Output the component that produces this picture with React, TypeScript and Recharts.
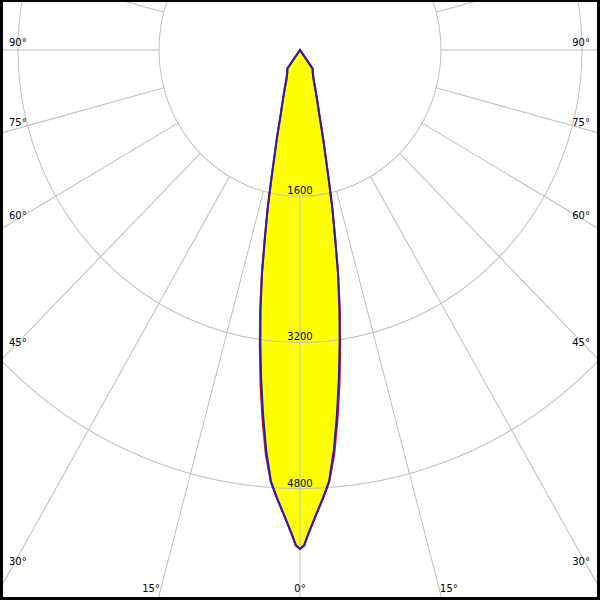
import { RadarChart, Radar, PolarGrid, PolarAngleAxis, PolarRadiusAxis } from "recharts";

// Polar light distribution (cd) — gamma angle from nadir, mirrored both sides
const GAMMA = [
  0, 0.5, 1, 2, 3, 4, 5, 6, 7, 8, 9, 10, 11, 12, 13, 14, 15, 16, 17, 18, 20, 22.5, 25, 30, 35, 180,
];
const PLANE_C0 = [
  5460, 5420, 5300, 5100, 4920, 4740, 4450, 4070, 3680, 3280, 2890, 2500, 2090, 1760, 1440, 1200,
  1030, 880, 760, 680, 560, 450, 370, 290, 250, 0,
];
const PLANE_C90 = [
  5460, 5420, 5300, 5100, 4920, 4730, 4400, 4010, 3620, 3230, 2860, 2480, 2080, 1760, 1440, 1200,
  1030, 880, 760, 680, 560, 450, 370, 290, 250, 0,
];

const RADIUS_TICKS = [1600, 3200, 4800];
const ANGLE_TICKS = [
  -165, -150, -135, -120, -105, -90, -75, -60, -45, -30, -15, 0, 15, 30, 45, 60, 75, 90, 105,
  120, 135, 150, 165, 180,
];

// ─── Layout ──────────────────────────────────────────────────────────────────

const CX = 300;
const CY = 50;
const PX_PER_CD = 141 / 1600;
const MAX_CD = 8000;
// picture is slightly taller than wide
const K = 1.037;
const FONT = "DejaVu Sans";

const rows = GAMMA.map((g, i) => ({ angle: g, c0: PLANE_C0[i], c90: PLANE_C90[i] }));
// one zenith point only, so the outline closes in a single sharp tip
const data = [
  ...rows
    .filter((r) => r.angle > 0 && r.angle < 180)
    .reverse()
    .map((r) => ({ ...r, angle: -r.angle })),
  ...rows,
];

// angle labels sit where each spoke leaves the frame
function AngleTick({ payload }: any) {
  const a = payload.value;
  if (Math.abs(a) > 90) return <g />;
  const rad = (a * Math.PI) / 180;
  const dx = Math.sin(rad);
  const dy = Math.cos(rad) * K;
  const tSide = Math.abs(dx) > 1e-6 ? (dx < 0 ? (CX - 11) / -dx : (589 - CX) / dx) : Infinity;
  const tBottom = dy > 1e-6 ? (592 - CY) / dy : Infinity;
  let sx: number;
  let sy: number;
  let anchor: "start" | "end" | "middle";
  if (tSide < tBottom) {
    sy = CY + dy * tSide - 4;
    sx = dx < 0 ? 9 : 590;
    anchor = dx < 0 ? "start" : "end";
  } else {
    sx = CX + dx * tBottom;
    sy = 592.5;
    anchor = a < 0 ? "end" : a > 0 ? "start" : "middle";
  }
  return (
    <text
      x={sx}
      y={CY + (sy - CY) / K}
      textAnchor={anchor}
      fontFamily={FONT}
      fontSize={10}
      fill="#000"
    >
      {Math.abs(a)}°
    </text>
  );
}

function RadiusTick({ x, y, payload }: any) {
  return (
    <text x={x} y={y - 2 / K} textAnchor="middle" fontFamily={FONT} fontSize={10} fill="#000">
      {payload.value}
    </text>
  );
}

const chartProps = {
  width: 600,
  height: 600,
  data,
  cx: CX,
  cy: CY,
  startAngle: -270,
  endAngle: 90,
  margin: { top: 0, right: 0, bottom: 0, left: 0 },
};

const layer: React.CSSProperties = { position: "absolute", left: 0, top: 0 };

export default function App() {
  return (
    <div
      style={{
        position: "absolute",
        left: 0,
        top: 0,
        width: 600,
        height: 600,
        overflow: "hidden",
        background: "#fff",
      }}
    >
      <div style={{ ...layer, transform: `scaleY(${K})`, transformOrigin: `${CX}px ${CY}px` }}>
        {/* ── yellow fill underneath ── */}
        <div style={layer}>
          <RadarChart {...chartProps} innerRadius={0} outerRadius={MAX_CD * PX_PER_CD}>
            <PolarAngleAxis
              type="number"
              dataKey="angle"
              domain={[-180, 180]}
              tick={false}
              axisLine={false}
              tickLine={false}
            />
            <PolarRadiusAxis type="number" domain={[0, MAX_CD]} tick={false} axisLine={false} />
            <Radar
              dataKey="c0"
              stroke="none"
              fill="#ffff00"
              fillOpacity={1}
              dot={false}
              activeDot={false}
              isAnimationActive={false}
            />
            <Radar
              dataKey="c90"
              stroke="none"
              fill="#ffff00"
              fillOpacity={1}
              dot={false}
              activeDot={false}
              isAnimationActive={false}
            />
          </RadarChart>
        </div>

        {/* ── grid (spokes start at the 1600 circle), labels, outlines ── */}
        <div style={layer}>
          <RadarChart
            {...chartProps}
            innerRadius={RADIUS_TICKS[0] * PX_PER_CD}
            outerRadius={MAX_CD * PX_PER_CD}
          >
            <PolarGrid gridType="circle" stroke="#c0c0c0" strokeWidth={1} />
            <PolarAngleAxis
              type="number"
              dataKey="angle"
              domain={[-180, 180]}
              ticks={ANGLE_TICKS}
              tick={(p: any) => <AngleTick {...p} />}
              axisLine={false}
              tickLine={false}
            />
            <PolarRadiusAxis
              type="number"
              angle={-90}
              domain={[RADIUS_TICKS[0], MAX_CD]}
              ticks={RADIUS_TICKS}
              allowDataOverflow
              tick={(p: any) => <RadiusTick {...p} />}
              axisLine={false}
              tickLine={false}
            />
            <Radar
              dataKey="c0"
              stroke="#e01010"
              strokeWidth={2}
              fill="none"
              dot={false}
              activeDot={false}
              isAnimationActive={false}
            />
            <Radar
              dataKey="c90"
              stroke="#2020b8"
              strokeWidth={2}
              fill="none"
              dot={false}
              activeDot={false}
              isAnimationActive={false}
            />
          </RadarChart>
        </div>
      </div>
      <div
        style={{
          position: "absolute",
          inset: 0,
          boxSizing: "border-box",
          border: "solid #000",
          borderWidth: "2px 3px 3px 3px",
          pointerEvents: "none",
        }}
      />
    </div>
  );
}
